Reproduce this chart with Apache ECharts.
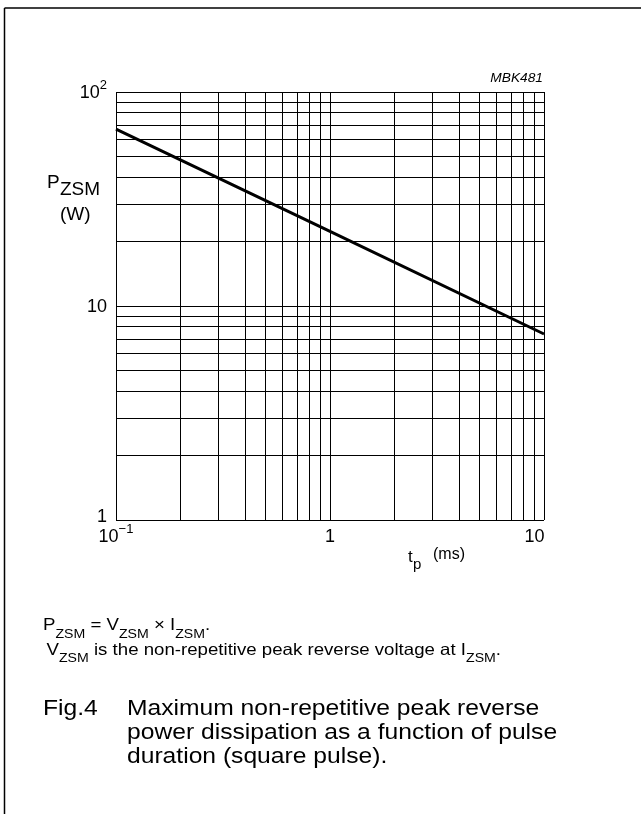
<!DOCTYPE html>
<html>
<head>
<meta charset="utf-8">
<script src="https://cdn.jsdelivr.net/npm/echarts@6/dist/echarts.min.js"></script>
<style>
html,body{margin:0;padding:0;background:#fff;}
#c{width:641px;height:814px;}
</style>
</head>
<body>
<div id="c"></div>
<script>
// Data
const tp = [0.1, 1, 10];          // pulse duration (ms)
const pzsm = [67, 22.3, 7.4];     // max non-repetitive peak reverse power (W)
const xGrid = [0.1,0.2,0.3,0.4,0.5,0.6,0.7,0.8,0.9,1,2,3,4,5,6,7,8,9,10];
const yGrid = [1,2,3,4,5,6,7,8,9,10,20,30,40,50,60,70,80,90,100];
const xTickLabels = {'-1':['10','−1','b'], '0':['1','','b'], '1':['10','','e']};
const yTickLabels = {'0':['1','','r'], '1':['10','','b'], '2':['10','2','b']};

const FONT = 'Liberation Sans, Arial, sans-serif';
const chart = echarts.init(document.getElementById('c'), null, {renderer:'canvas'});

function supFmt(map){
  return function(v){
    const k = String(Math.round(Math.log10(v)));
    const p = map[k];
    if(!p) return '';
    const st = p[2];
    return p[1] ? '{' + st + '|' + p[0] + '}{s|' + p[1] + '}' : '{' + st + '|' + p[0] + '}';
  };
}
const LH = 24;
const richSup = {
  b:{fontSize:18, fontFamily:FONT, color:'#000', lineHeight:LH, verticalAlign:'bottom'},
  r:{fontSize:18, fontFamily:FONT, color:'#000', lineHeight:LH, verticalAlign:'bottom', padding:[0,0,4.5,0]},
  e:{fontSize:18, fontFamily:FONT, color:'#000', lineHeight:LH, verticalAlign:'bottom', padding:[0,19,0,0]},
  s:{fontSize:13, fontFamily:FONT, color:'#000', lineHeight:10, verticalAlign:'top'}
};

const gridLineStyle = {color:'#000', width:1, type:'solid'};

const subRich = function(bs, ss, bl, sl){
  return {
    b:{fontSize:bs, fontFamily:FONT, fill:'#000', lineHeight:bl, verticalAlign:'top'},
    s:{fontSize:ss, fontFamily:FONT, fill:'#000', lineHeight:sl, verticalAlign:'bottom'}
  };
};

chart.setOption({
  animation:false,
  backgroundColor:'#fff',
  grid:{left:116, right:97, top:92, bottom:294, containLabel:false},
  xAxis:{
    type:'log', logBase:10, min:0.1, max:10,
    axisLine:{show:false}, axisTick:{show:false}, splitLine:{show:false},
    axisLabel:{formatter:supFmt(xTickLabels), rich:richSup, margin:2.5, color:'#000'}
  },
  yAxis:{
    type:'log', logBase:10, min:1, max:100,
    axisLine:{show:false}, axisTick:{show:false}, splitLine:{show:false},
    axisLabel:{formatter:supFmt(yTickLabels), rich:richSup, margin:9, color:'#000', padding:[0,0,3,0]}
  },
  series:[
    {
      type:'line', data:[], silent:true,
      markLine:{
        silent:true, symbol:['none','none'], label:{show:false},
        lineStyle:gridLineStyle, animation:false,
        emphasis:{disabled:true},
        data: xGrid.map(v=>({xAxis:v})).concat(yGrid.map(v=>({yAxis:v})))
      }
    },
    {
      type:'line', showSymbol:false, symbol:'none', silent:true,
      lineStyle:{color:'#000', width:3},
      data: tp.map((t,i)=>[t, pzsm[i]])
    }
  ],
  graphic:[
    {type:'line', shape:{x1:4.5, y1:8, x2:641, y2:8}, style:{stroke:'#000', lineWidth:1.5}},
    {type:'line', shape:{x1:4.5, y1:8, x2:4.5, y2:814}, style:{stroke:'#000', lineWidth:1.5}},
    {type:'text', x:543, y:79, scaleX:1.1, style:{text:'MBK481', font:'italic 12.5px ' + FONT, fill:'#000', align:'right', verticalAlign:'middle'}},
    // y-axis name
    {type:'text', x:47, y:182.5, style:{text:'P', font:'19px ' + FONT, fill:'#000', verticalAlign:'middle'}},
    {type:'text', x:60, y:189.5, style:{text:'ZSM', font:'19px ' + FONT, fill:'#000', verticalAlign:'middle'}},
    {type:'text', x:60, y:214.5, style:{text:'(W)', font:'19px ' + FONT, fill:'#000', verticalAlign:'middle'}},
    // x-axis name
    {type:'text', x:408, y:557, style:{text:'t', font:'17px ' + FONT, fill:'#000', verticalAlign:'middle'}},
    {type:'text', x:413, y:564.5, style:{text:'p', font:'15px ' + FONT, fill:'#000', verticalAlign:'middle'}},
    {type:'text', x:433, y:554.5, style:{text:'(ms)', font:'16px ' + FONT, fill:'#000', verticalAlign:'middle'}},
    // footnotes
    {type:'text', x:43, y:617, scaleX:1.13, style:{
      text:'{b|P}{s|ZSM}{b| = V}{s|ZSM}{b| × I}{s|ZSM}{b|.}', rich:subRich(16.5, 12.5, 20, 24)}},
    {type:'text', x:46.5, y:641.5, scaleX:1.13, style:{
      text:'{b|V}{s|ZSM}{b| is the non-repetitive peak reverse voltage at I}{s|ZSM}{b|.}', rich:subRich(16.5, 12.5, 20, 24)}},
    // caption
    {type:'text', x:43, y:697, scaleX:1.12, style:{text:'Fig.4', font:'22px ' + FONT, fill:'#000', lineHeight:24}},
    {type:'text', x:127, y:697, scaleX:1.12, style:{
      text:'Maximum non-repetitive peak reverse\npower dissipation as a function of pulse\nduration (square pulse).',
      font:'22px ' + FONT, fill:'#000', lineHeight:24}}
  ]
});
</script>
</body>
</html>
